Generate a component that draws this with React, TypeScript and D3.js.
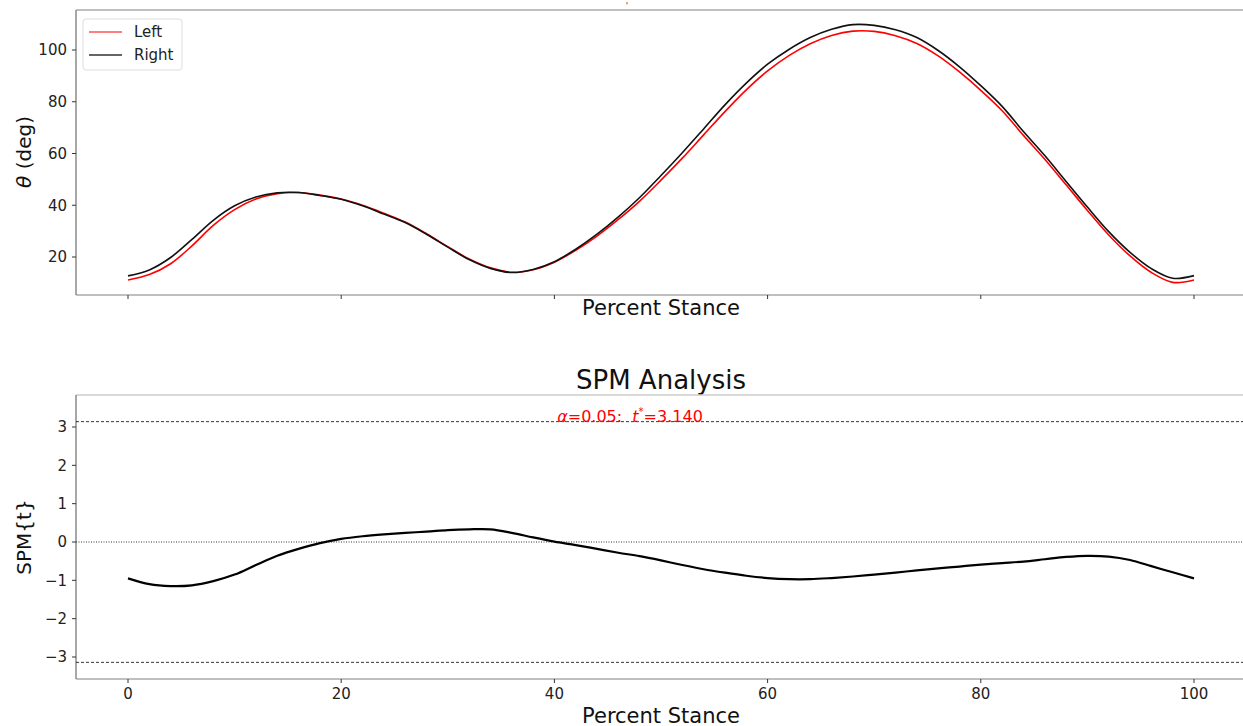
import React from "react";
import * as d3 from "d3";

// x positions (percent stance)
const stance = [0, 2, 4, 6, 8, 10, 12, 14, 16, 18, 20, 22, 24, 26, 28, 30, 32, 34, 36, 38, 40, 42, 44, 46, 48, 50,
  52, 54, 56, 58, 60, 62, 64, 66, 68, 70, 72, 74, 76, 78, 80, 82, 84, 86, 88, 90, 92, 94, 96, 98, 100];

const leftDeg = [11.1, 13.2, 17.4, 24.3, 32.2, 38.3, 42.4, 44.5, 44.9, 43.9, 42.4, 40.0, 36.9, 33.5, 29.0, 24.0, 19.2,
  15.8, 14.1, 15.1, 18.0, 22.6, 28.1, 34.5, 41.6, 49.7, 58.2, 67.2, 76.2, 84.6, 91.9, 97.8, 102.4, 105.6, 107.3, 107.2,
  105.5, 102.5, 97.7, 91.5, 84.4, 76.5, 67.0, 57.8, 47.9, 38.0, 28.5, 20.4, 14.0, 10.2, 11.1];

const rightDeg = [12.7, 15.0, 19.8, 26.8, 34.2, 39.8, 43.2, 44.8, 44.9, 43.8, 42.3, 39.8, 36.6, 33.3, 28.8, 23.8, 19.0,
  15.6, 14.0, 15.2, 18.2, 23.0, 28.8, 35.5, 43.0, 51.5, 60.3, 69.5, 78.8, 87.2, 94.5, 100.2, 104.8, 108.0, 109.8, 109.5,
  107.8, 104.8, 99.8, 93.5, 86.2, 78.2, 68.5, 59.2, 49.2, 39.3, 29.8, 21.8, 15.5, 11.8, 12.8];

const spmT = [-0.95, -1.1, -1.15, -1.13, -1.02, -0.85, -0.6, -0.36, -0.18, -0.03, 0.08, 0.15, 0.2, 0.24, 0.27, 0.31,
  0.33, 0.33, 0.24, 0.12, 0.01, -0.08, -0.18, -0.28, -0.37, -0.48, -0.6, -0.71, -0.8, -0.88, -0.94, -0.97, -0.97, -0.94,
  -0.9, -0.85, -0.8, -0.74, -0.69, -0.64, -0.59, -0.55, -0.51, -0.45, -0.39, -0.36, -0.38, -0.47, -0.63, -0.79, -0.95];

const xTicks = [0, 20, 40, 60, 80, 100];
const topYTicks = [20, 40, 60, 80, 100];
const spmYTicks = [-3, -2, -1, 0, 1, 2, 3];
const tCrit = 3.14;
const alpha = 0.05;

const W = 1243;
const H = 726;
const font = "DejaVu Sans, sans-serif";
const spine = "#8a8a8a";

export default function App() {
  const x = d3.scaleLinear().domain([0, 100]).range([128, 1194]);
  const xLeft = 76;

  // top panel
  const yTop = d3.scaleLinear().domain([20, 100]).range([257, 50]);
  const topPlot = { top: 10, bottom: 295 };
  // bottom panel
  const yBot = d3.scaleLinear().domain([0, 3]).range([542, 427]);
  const botPlot = { top: 395, bottom: 679 };

  const curve = d3.curveCatmullRom.alpha(0.5);
  const lineTop = (vals: number[]) =>
    d3.line<number>().x((_, i) => x(stance[i])).y((d) => yTop(d)).curve(curve)(vals) || "";
  const lineSpm =
    d3.line<number>().x((_, i) => x(stance[i])).y((d) => yBot(d)).curve(curve)(spmT) || "";

  const minus = (v: number) => (v < 0 ? "\u2212" + Math.abs(v) : String(v));

  return (
    <svg width={W} height={H} style={{ position: "absolute", left: 0, top: 0, background: "#fff" }} fontFamily={font}>
      {/* tiny clipped title remnant */}
      <text x={627} y={9} fontSize={9} fill="#444" textAnchor="middle">'</text>

      {/* ---- top panel ---- */}
      <line x1={xLeft} x2={W} y1={topPlot.top} y2={topPlot.top} stroke="#aaa" strokeWidth={1.5} />
      <line x1={xLeft} x2={W} y1={topPlot.bottom} y2={topPlot.bottom} stroke="#aaa" strokeWidth={1.5} />
      <line x1={xLeft} x2={xLeft} y1={topPlot.top} y2={topPlot.bottom} stroke={spine} strokeWidth={1.5} />
      {xTicks.map((t) => (
        <line key={t} x1={x(t)} x2={x(t)} y1={topPlot.bottom} y2={topPlot.bottom + 4} stroke="#333" />
      ))}
      {topYTicks.map((t) => (
        <g key={t}>
          <line x1={xLeft - 4} x2={xLeft} y1={yTop(t)} y2={yTop(t)} stroke="#333" />
          <text x={xLeft - 9} y={yTop(t)} dy="0.35em" textAnchor="end" fontSize={15} fill="#222">{t}</text>
        </g>
      ))}
      <path d={lineTop(leftDeg)} fill="none" stroke="#ff0000" strokeWidth={1.6} />
      <path d={lineTop(rightDeg)} fill="none" stroke="#111" strokeWidth={1.6} />
      <text x={661} y={315} textAnchor="middle" fontSize={21} fill="#111">Percent Stance</text>
      <text transform="translate(31,152) rotate(-90)" textAnchor="middle" fontSize={20} fill="#111">
        <tspan fontStyle="italic">θ</tspan> (deg)
      </text>

      {/* legend */}
      <rect x={83} y={19} width={99} height={51} rx={3} fill="#fff" stroke="#ddd" />
      <line x1={89} x2={122} y1={32} y2={32} stroke="#ff0000" strokeWidth={1.2} />
      <text x={134} y={32} dy="0.35em" fontSize={15} fill="#222">Left</text>
      <line x1={89} x2={122} y1={55} y2={55} stroke="#333" strokeWidth={1.4} />
      <text x={134} y={55} dy="0.35em" fontSize={15} fill="#222">Right</text>

      {/* ---- bottom panel ---- */}
      <text x={661} y={389} textAnchor="middle" fontSize={26} fill="#111">SPM Analysis</text>
      <line x1={xLeft} x2={W} y1={botPlot.top} y2={botPlot.top} stroke="#ccc" strokeWidth={1.5} />
      <line x1={xLeft} x2={W} y1={botPlot.bottom} y2={botPlot.bottom} stroke="#aaa" strokeWidth={1.5} />
      <line x1={xLeft} x2={xLeft} y1={botPlot.top} y2={botPlot.bottom} stroke={spine} strokeWidth={1.5} />
      {xTicks.map((t) => (
        <g key={t}>
          <line x1={x(t)} x2={x(t)} y1={botPlot.bottom} y2={botPlot.bottom + 4} stroke="#333" />
          <text x={x(t)} y={694} dy="0.35em" textAnchor="middle" fontSize={15} fill="#222">{t}</text>
        </g>
      ))}
      {spmYTicks.map((t) => (
        <g key={t}>
          <line x1={xLeft - 4} x2={xLeft} y1={yBot(t)} y2={yBot(t)} stroke="#333" />
          <text x={xLeft - 9} y={yBot(t)} dy="0.35em" textAnchor="end" fontSize={15} fill="#222">{minus(t)}</text>
        </g>
      ))}
      <line x1={xLeft} x2={W} y1={yBot(0)} y2={yBot(0)} stroke="#222" strokeWidth={0.9} strokeDasharray="1,1.5" />
      <line x1={xLeft} x2={W} y1={yBot(tCrit)} y2={yBot(tCrit)} stroke="#222" strokeWidth={0.9} strokeDasharray="3,2" />
      <line x1={xLeft} x2={W} y1={yBot(-tCrit)} y2={yBot(-tCrit)} stroke="#222" strokeWidth={0.9} strokeDasharray="3,2" />
      <text x={630} y={yBot(tCrit)} textAnchor="middle" fontSize={16} fill="#ff0000" style={{ whiteSpace: "pre" }}>
        <tspan fontStyle="italic">α</tspan>{`=${alpha.toFixed(2)}:\u00a0\u00a0`}<tspan fontStyle="italic">t</tspan>
        <tspan fontSize={10} dy={-7}>*</tspan>
        <tspan dy={7}>{`=${tCrit.toFixed(3)}`}</tspan>
      </text>
      <path d={lineSpm} fill="none" stroke="#000" strokeWidth={2.2} />
      <text x={661} y={723} textAnchor="middle" fontSize={21} fill="#111">Percent Stance</text>
      <text transform="translate(31,537) rotate(-90)" textAnchor="middle" fontSize={20} fill="#111">SPM{"{t}"}</text>
    </svg>
  );
}
